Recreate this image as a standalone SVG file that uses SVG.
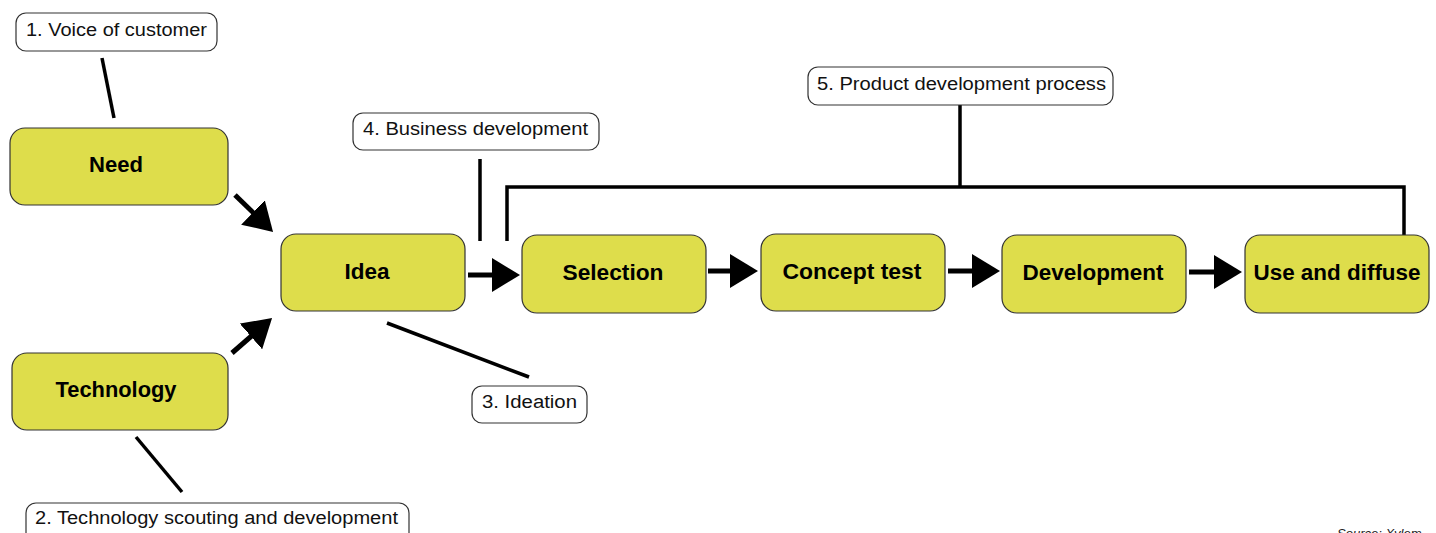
<svg xmlns="http://www.w3.org/2000/svg" width="1436" height="533" viewBox="0 0 1436 533">
<style>
.node rect{fill:#dedd4b;stroke:#333;stroke-width:1.2}
.node text{font-family:"Liberation Sans",Arial,sans-serif;font-weight:bold;font-size:22px;fill:#000;text-anchor:middle}
.label rect{fill:#fff;stroke:#333;stroke-width:1.2}
.label text{font-family:"Liberation Sans",Arial,sans-serif;font-size:18px;fill:#111}
.conn line,.conn polyline{stroke:#000;fill:none}
.arrow{stroke-width:5}
.lead{stroke-width:3.5}
</style>
<defs>
<marker id="ah" markerUnits="userSpaceOnUse" markerWidth="28" markerHeight="34" refX="8" refY="17" orient="auto" viewBox="0 0 28 34">
<path d="M0,0 L28,17 L0,34 z" fill="#000"/>
</marker>
</defs>
<rect width="1436" height="533" fill="#fff"/>
<g class="conn">
<line class="lead" x1="102" y1="58" x2="114" y2="118"/>
<line class="lead" x1="136" y1="437" x2="182" y2="492"/>
<line class="lead" x1="387" y1="323" x2="529" y2="377"/>
<line class="lead" x1="480" y1="159" x2="480" y2="241"/>
<line class="lead" x1="960" y1="105" x2="960" y2="187"/>
<polyline class="lead" points="507,241 507,187 1404,187 1404,235"/>
<line class="arrow" x1="235" y1="195" x2="258.7" y2="218" marker-end="url(#ah)"/>
<line class="arrow" x1="232" y1="353" x2="257" y2="331.2" marker-end="url(#ah)"/>
<line class="arrow" x1="468" y1="275" x2="500" y2="275" marker-end="url(#ah)"/>
<line class="arrow" x1="708" y1="271" x2="738" y2="271" marker-end="url(#ah)"/>
<line class="arrow" x1="948" y1="271" x2="980" y2="271" marker-end="url(#ah)"/>
<line class="arrow" x1="1189" y1="272" x2="1222" y2="272" marker-end="url(#ah)"/>
</g>
<g id="need" class="node"><rect x="10" y="128" width="218" height="77" rx="15"/><text x="116" y="172" textLength="54" lengthAdjust="spacingAndGlyphs">Need</text></g>
<g id="technology" class="node"><rect x="12" y="353" width="216" height="77" rx="15"/><text x="116" y="397" textLength="121" lengthAdjust="spacingAndGlyphs">Technology</text></g>
<g id="idea" class="node"><rect x="281" y="234" width="184" height="77" rx="15"/><text x="367" y="279" textLength="45" lengthAdjust="spacingAndGlyphs">Idea</text></g>
<g id="selection" class="node"><rect x="522" y="235" width="184" height="78" rx="15"/><text x="613" y="280" textLength="101" lengthAdjust="spacingAndGlyphs">Selection</text></g>
<g id="concept" class="node"><rect x="761" y="234" width="184" height="77" rx="15"/><text x="852" y="279" textLength="139" lengthAdjust="spacingAndGlyphs">Concept test</text></g>
<g id="development" class="node"><rect x="1002" y="235" width="184" height="78" rx="15"/><text x="1093" y="280" textLength="141" lengthAdjust="spacingAndGlyphs">Development</text></g>
<g id="use" class="node"><rect x="1245" y="235" width="184" height="78" rx="15"/><text x="1337" y="280" textLength="167" lengthAdjust="spacingAndGlyphs">Use and diffuse</text></g>
<g id="label1" class="label"><rect x="16" y="13" width="201" height="38" rx="10"/><text x="26" y="36" textLength="181" lengthAdjust="spacingAndGlyphs">1. Voice of customer</text></g>
<g id="label2" class="label"><rect x="26" y="503" width="383" height="45" rx="10"/><text x="35" y="524" textLength="363" lengthAdjust="spacingAndGlyphs">2. Technology scouting and development</text></g>
<g id="label3" class="label"><rect x="472" y="386" width="115" height="37" rx="10"/><text x="482" y="408" textLength="95" lengthAdjust="spacingAndGlyphs">3. Ideation</text></g>
<g id="label4" class="label"><rect x="353" y="113" width="246" height="37" rx="10"/><text x="363" y="135" textLength="225" lengthAdjust="spacingAndGlyphs">4. Business development</text></g>
<g id="label5" class="label"><rect x="808" y="67" width="305" height="38" rx="10"/><text x="817" y="90" textLength="289" lengthAdjust="spacingAndGlyphs">5. Product development process</text></g>
<text x="1337" y="538" font-family="Liberation Sans, Arial, sans-serif" font-size="13" font-style="italic" fill="#222">Source: Xylem</text>
</svg>
